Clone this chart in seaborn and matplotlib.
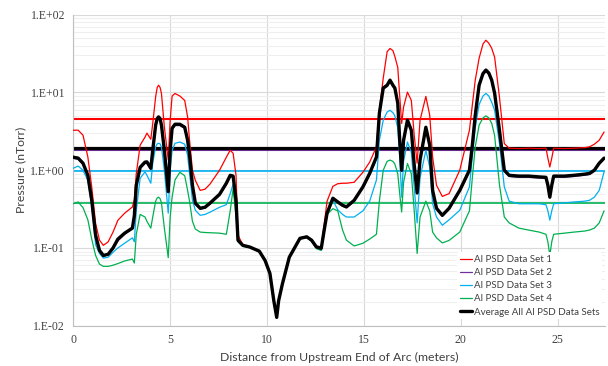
import numpy as np
import seaborn as sns
import matplotlib.pyplot as plt
from matplotlib.ticker import LogLocator, NullFormatter

# ------------------------ Styling Setup ------------------------
sns.set_theme(style='white')
plt.rcParams['font.family'] = ['Lato', 'DejaVu Sans']

# ------------------------ Data ------------------------
dist = [0.0, 0.25, 0.5, 0.75, 0.95, 1.15, 1.35, 1.55, 1.8, 2.05,
        2.3, 2.65, 3.05, 3.15, 3.25, 3.45, 3.7, 3.8, 4.0, 4.1,
        4.25, 4.33, 4.4, 4.48, 4.55, 4.7, 4.9, 5.0, 5.1, 5.25, 5.5, 5.75,
        5.9, 6.0, 6.15, 6.3, 6.55, 6.8, 7.05, 7.55, 7.9, 8.1,
        8.25, 8.4, 8.5, 8.75, 9.1, 9.6, 9.9, 10.15, 10.35, 10.5,
        10.6, 10.8, 11.15, 11.7, 12.05, 12.3, 12.55, 12.8, 12.95, 13.1,
        13.4, 13.65, 13.9, 14.1, 14.5, 14.95, 15.3, 15.65, 15.8, 16.0,
        16.2, 16.35, 16.5, 16.6, 16.75, 16.85, 16.95, 17.05, 17.25, 17.45, 17.6, 17.75,
        17.9, 18.2, 18.4, 18.55, 18.75, 19.05, 19.4, 19.95, 20.45, 20.6,
        20.75, 20.95, 21.15, 21.3, 21.45, 21.6, 21.75, 22.0, 22.25, 22.5, 23.0, 23.5,
        24.05, 24.4, 24.5, 24.6, 24.7, 24.8, 25.35, 25.85, 26.4, 26.65,
        26.9, 27.15, 27.4]

set1 = [3.27, 3.27, 2.82, 1.48, 0.61, 0.207, 0.126, 0.108, 0.12, 0.16,
        0.227, 0.28, 0.337, 0.42, 0.9, 2.1, 2.66, 3.0, 2.5, 4.0,
        8.8, 11.6, 12.4, 11.6, 9.7, 3.6, 1.35, 4.4, 9.0, 9.7, 9.0, 7.9,
        4.85, 2.43, 1.0, 0.74, 0.55, 0.57, 0.66, 1.0, 1.47, 1.81,
        1.65, 0.86, 0.146, 0.110, 0.104, 0.092, 0.070, 0.048, 0.021, 0.0125,
        0.021, 0.035, 0.077, 0.135, 0.141, 0.128, 0.105, 0.104, 0.20, 0.40,
        0.62, 0.67, 0.68, 0.68, 0.70, 0.94, 1.27, 2.0, 5.9, 15.3,
        33.4, 36.8, 34.5, 29.0, 21.0, 9.0, 4.0, 6.5, 10.1, 7.9, 2.8, 1.23,
        4.4, 8.9, 5.1, 1.47, 0.64, 0.46, 0.5, 1.0, 3.27, 6.9,
        14.4, 27.6, 42.0, 47.0, 43.0, 37.0, 28.5, 8.7, 2.2, 1.92, 1.90, 1.92,
        1.90, 1.92, 1.43, 1.1, 1.43, 1.92, 1.90, 1.92, 1.95, 2.0,
        2.16, 2.43, 3.1]

set2 = [1.42, 1.38, 1.19, 0.84, 0.40, 0.144, 0.092, 0.079, 0.082, 0.098,
        0.123, 0.150, 0.178, 0.25, 0.62, 1.05, 1.22, 1.23, 1.02, 1.74,
        3.65, 4.4, 4.65, 4.4, 3.65, 1.74, 0.52, 1.74, 3.35, 3.75, 3.75, 3.45,
        2.35, 1.51, 0.62, 0.365, 0.315, 0.325, 0.365, 0.475, 0.66, 0.83,
        0.81, 0.40, 0.125, 0.107, 0.102, 0.090, 0.069, 0.047, 0.021, 0.0128,
        0.021, 0.035, 0.076, 0.132, 0.138, 0.125, 0.102, 0.098, 0.165, 0.27,
        0.42, 0.38, 0.345, 0.33, 0.40, 0.59, 0.88, 1.42, 5.2, 11.0,
        11.9, 13.8, 11.9, 11.0, 7.0, 2.35, 0.97, 2.35, 4.2, 3.15, 1.12, 0.50,
        1.3, 3.45, 2.03, 0.53, 0.315, 0.255, 0.315, 0.53, 0.97, 2.03,
        4.9, 12.0, 16.8, 18.6, 17.0, 13.9, 9.4, 3.15, 0.97, 0.83, 0.81, 0.81,
        0.79, 0.78, 0.62, 0.44, 0.62, 0.81, 0.81, 0.83, 0.86, 0.88,
        0.97, 1.19, 1.38]

set3 = [1.06, 1.13, 1.0, 0.74, 0.354, 0.11, 0.085, 0.074, 0.076, 0.088,
        0.10, 0.115, 0.135, 0.12, 0.3, 0.79, 0.95, 0.86, 0.68, 1.23,
        2.0, 2.18, 2.22, 2.18, 1.98, 1.0, 0.28, 1.0, 1.81, 2.22, 2.3, 2.16,
        1.56, 0.91, 0.41, 0.305, 0.263, 0.27, 0.288, 0.334, 0.36, 0.5,
        0.66, 0.3, 0.122, 0.106, 0.102, 0.090, 0.068, 0.046, 0.021, 0.0128,
        0.021, 0.035, 0.075, 0.131, 0.137, 0.123, 0.099, 0.094, 0.15, 0.30,
        0.41, 0.31, 0.27, 0.25, 0.25, 0.30, 0.40, 0.75, 2.43, 4.4,
        5.6, 5.9, 5.5, 5.0, 3.5, 1.5, 0.45, 1.3, 2.3, 1.7, 0.6, 0.21,
        0.8, 1.8, 1.1, 0.37, 0.25, 0.196, 0.23, 0.305, 0.61, 1.5,
        3.5, 7.0, 9.0, 9.7, 9.0, 7.5, 5.9, 2.2, 0.61, 0.40, 0.37, 0.37,
        0.37, 0.36, 0.30, 0.228, 0.30, 0.37, 0.38, 0.39, 0.40, 0.41,
        0.45, 0.55, 0.95]

set4 = [0.37, 0.39, 0.33, 0.23, 0.13, 0.08, 0.062, 0.058, 0.058, 0.060,
        0.063, 0.068, 0.072, 0.064, 0.15, 0.27, 0.25, 0.22, 0.18, 0.25,
        0.40, 0.44, 0.45, 0.43, 0.38, 0.18, 0.075, 0.25, 0.45, 0.75, 0.94, 0.85,
        0.55, 0.40, 0.22, 0.175, 0.16, 0.158, 0.157, 0.155, 0.15, 0.3,
        0.58, 0.25, 0.12, 0.105, 0.101, 0.089, 0.068, 0.046, 0.021, 0.0125,
        0.021, 0.034, 0.074, 0.130, 0.136, 0.122, 0.098, 0.093, 0.17, 0.27,
        0.32, 0.30, 0.17, 0.126, 0.106, 0.115, 0.13, 0.15, 0.40, 1.0,
        1.3, 1.35, 1.3, 1.2, 0.9, 0.5, 0.29, 0.7, 1.22, 0.9, 0.3, 0.085,
        0.25, 0.40, 0.3, 0.16, 0.135, 0.116, 0.125, 0.16, 0.3, 0.8,
        2.0, 3.8, 4.7, 5.0, 4.7, 4.0, 2.8, 0.65, 0.25, 0.21, 0.18, 0.17,
        0.16, 0.15, 0.12, 0.08, 0.12, 0.15, 0.155, 0.16, 0.165, 0.17,
        0.18, 0.21, 0.30]

average = [1.47, 1.43, 1.23, 0.86, 0.41, 0.146, 0.093, 0.080, 0.083, 0.100,
           0.13, 0.155, 0.18, 0.26, 0.64, 1.09, 1.27, 1.28, 1.06, 1.81,
           3.8, 4.6, 4.85, 4.6, 3.8, 1.81, 0.53, 1.81, 3.47, 3.9, 3.9, 3.57,
           2.43, 1.56, 0.64, 0.376, 0.324, 0.334, 0.376, 0.49, 0.68, 0.86,
           0.84, 0.41, 0.126, 0.108, 0.103, 0.091, 0.069, 0.047, 0.021, 0.0128,
           0.021, 0.035, 0.076, 0.133, 0.139, 0.126, 0.103, 0.099, 0.169, 0.28,
           0.436, 0.391, 0.354, 0.337, 0.41, 0.61, 0.91, 1.48, 5.4, 11.4,
           12.4, 14.4, 12.4, 11.4, 7.3, 2.43, 1.0, 2.43, 4.4, 3.27, 1.16, 0.51,
           1.35, 3.57, 2.1, 0.55, 0.324, 0.263, 0.324, 0.55, 1.0, 2.1,
           5.1, 12.4, 17.5, 19.4, 17.8, 14.4, 9.8, 3.27, 1.0, 0.86, 0.84, 0.84,
           0.82, 0.81, 0.64, 0.45, 0.64, 0.84, 0.84, 0.86, 0.89, 0.91,
           1.0, 1.23, 1.43]

# mean pressure of each data set (horizontal reference lines)
mean_levels = [4.57, 1.81, 0.97, 0.38, 1.94]

labels = ['Al PSD Data Set 1', 'Al PSD Data Set 2', 'Al PSD Data Set 3',
          'Al PSD Data Set 4', 'Average All Al PSD Data Sets']
series = [set1, set2, set3, set4, average]
colors = ['#FF0000', '#7030A0', '#00B0F0', '#00B050', '#000000']
curve_widths = [0.9, 0.9, 0.9, 0.9, 2.4]
level_widths = [1.5, 1.5, 1.2, 1.2, 2.3]

y_ticks = [0.01, 0.1, 1, 10, 100]
y_tick_labels = ['1.E-02', '1.E-01', '1.E+00', '1.E+01', '1.E+02']
x_ticks = [0, 5, 10, 15, 20, 25]

# ------------------------ Plot ------------------------
fig = plt.figure(figsize=(6.08, 3.66), dpi=100)
ax = fig.add_axes([0.1206, 0.1101, 0.8745, 0.8497])

for lvl, c, lw in zip(mean_levels, colors, level_widths):
    ax.axhline(lvl, color=c, linewidth=lw, zorder=2)

for vals, lab, c, lw in zip(series, labels, colors, curve_widths):
    sns.lineplot(x=dist, y=vals, ax=ax, color=c, linewidth=lw, label=lab,
                 sort=False, estimator=None, zorder=4 if lw > 2 else 3,
                 solid_joinstyle='round')

ax.set_yscale('log')
ax.set_ylim(0.01, 100)
ax.set_xlim(0, 27.45)
ax.set_yticks(y_ticks)
ax.set_yticklabels(y_tick_labels)
ax.yaxis.set_minor_locator(LogLocator(base=10, subs=np.arange(2, 10)))
ax.yaxis.set_minor_formatter(NullFormatter())
ax.set_xticks(x_ticks)

ax.grid(which='major', axis='both', color='#D9D9D9', linewidth=0.8, zorder=0)
ax.grid(which='minor', axis='y', color='#EFEFEF', linewidth=0.8, zorder=0)
ax.set_axisbelow(True)
ax.tick_params(which='both', length=0, labelsize=8.5, colors='#404040', pad=6)
for t in ax.get_xticklabels() + ax.get_yticklabels():
    t.set_family(['Liberation Serif', 'DejaVu Serif'])

for side in ['top', 'right']:
    ax.spines[side].set_visible(False)
for side in ['left', 'bottom']:
    ax.spines[side].set_color('#BFBFBF')
    ax.spines[side].set_linewidth(0.8)

ax.set_xlabel('Distance from Upstream End of Arc (meters)', fontsize=8.8, color='#404040', labelpad=4)
ax.set_ylabel('Pressure (nTorr)', fontsize=8.8, color='#404040', labelpad=3)

leg = ax.legend(loc='lower right', bbox_to_anchor=(0.995, 0.02), fontsize=7,
                frameon=True, facecolor='white', edgecolor='none', framealpha=1,
                handlelength=1.3, handletextpad=0.15, labelspacing=0.42,
                borderpad=0.3, borderaxespad=0)
for t in leg.get_texts():
    t.set_color('#404040')

fig.savefig('out.png', dpi=100)
